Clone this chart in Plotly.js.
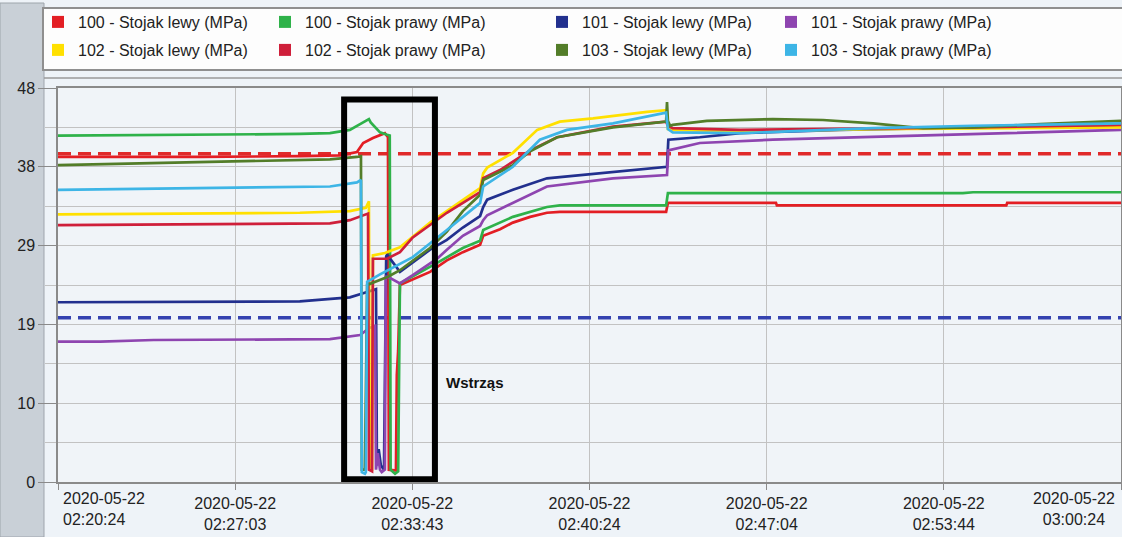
<!DOCTYPE html>
<html>
<head>
<meta charset="utf-8">
<script src="https://cdn.plot.ly/plotly-3.0.1.min.js"></script>
<style>
html,body{margin:0;padding:0;background:#eef3f8;}
#chart{width:1122px;height:537px;}
</style>
</head>
<body>
<div id="chart"></div>
<script>
const DAY = "2020-05-22 ";

const seriesNames = [
  "100 - Stojak lewy (MPa)", "100 - Stojak prawy (MPa)",
  "101 - Stojak lewy (MPa)", "101 - Stojak prawy (MPa)",
  "102 - Stojak lewy (MPa)", "102 - Stojak prawy (MPa)",
  "103 - Stojak lewy (MPa)", "103 - Stojak prawy (MPa)"
];
const seriesColors = ["#e31e24", "#2fb24a", "#22308e", "#8e45b0", "#ffe000", "#cf1f3a", "#537d29", "#3db5e6"];

// 100 - Stojak lewy
const t100L = ["02:20:24","02:25:45","02:29:30","02:31:01","02:31:39","02:31:53","02:32:15","02:32:42","02:32:49","02:32:51","02:33:07","02:33:09","02:33:12","02:33:16","02:34:24","02:35:02","02:35:38","02:36:17","02:36:24","02:37:02","02:37:31","02:38:10","02:38:48","02:39:17","02:43:17","02:43:21","02:47:25","02:47:27","02:56:05","02:56:07","03:00:24"];
const v100L = [39.6,39.6,39.7,39.8,40.2,41.3,41.9,42.5,42.0,1.5,1.4,13.0,16.0,24.0,25.6,27.0,28.0,28.9,30.0,30.8,31.6,32.3,32.8,32.9,32.9,34.0,34.0,33.7,33.7,34.0,34.0];

// 100 - Stojak prawy
const t100P = ["02:20:24","02:25:45","02:29:30","02:30:38","02:31:23","02:31:46","02:32:02","02:32:06","02:32:10","02:32:15","02:32:31","02:32:47","02:32:53","02:32:55","02:33:05","02:33:12","02:33:16","02:34:40","02:35:38","02:36:17","02:36:24","02:37:31","02:38:48","02:39:17","02:43:17","02:43:21","02:54:27","02:54:50","03:00:24"];
const v100P = [42.2,42.3,42.4,42.5,42.9,43.6,44.1,44.2,43.8,43.5,42.6,42.3,42.2,1.5,1.0,1.3,24.2,26.7,28.5,29.4,30.7,32.3,33.5,33.7,33.7,35.2,35.2,35.3,35.3];

// 101 - Stojak lewy
const t101L = ["02:20:24","02:29:30","02:31:01","02:31:23","02:31:53","02:32:15","02:32:22","02:32:24","02:32:28","02:32:33","02:32:40","02:32:45","02:32:47","02:33:16","02:34:24","02:35:02","02:35:38","02:36:17","02:36:24","02:36:33","02:37:31","02:38:48","02:41:17","02:43:19","02:43:22","02:44:33","02:46:04","02:49:49","02:54:50","03:00:24"];
const v101L = [21.9,22.0,22.4,22.5,23.0,23.4,23.5,2.0,4.0,2.0,1.5,27.5,27.7,25.6,28.3,29.5,31.0,32.4,33.5,34.4,35.6,37.0,37.8,38.4,41.7,42.0,42.5,42.9,43.2,43.4];

// 101 - Stojak prawy
const t101P = ["02:20:24","02:22:00","02:24:00","02:29:30","02:30:38","02:31:46","02:32:08","02:32:15","02:32:20","02:32:22","02:32:26","02:32:31","02:32:35","02:32:42","02:32:44","02:32:49","02:33:16","02:33:45","02:34:40","02:35:02","02:35:38","02:36:17","02:36:24","02:36:33","02:37:31","02:38:48","02:41:17","02:43:19","02:43:22","02:44:33","02:47:18","02:52:21","02:56:07","03:00:24"];
const v101P = [17.1,17.1,17.3,17.4,17.4,17.9,18.8,18.9,19.0,1.5,3.5,1.5,1.2,1.5,25.0,25.0,24.2,25.2,27.2,28.3,30.0,31.2,31.9,32.5,34.0,36.0,37.0,37.4,40.4,41.3,41.7,42.2,42.5,42.9];

// 102 - Stojak lewy
const t102L = ["02:20:24","02:25:45","02:29:30","02:31:23","02:31:59","02:32:06","02:32:08","02:32:13","02:32:15","02:32:42","02:33:16","02:34:24","02:35:38","02:36:17","02:36:24","02:36:33","02:37:31","02:38:26","02:39:17","02:40:32","02:42:34","02:43:17","02:43:21","02:43:32","02:46:04","02:51:04","03:00:24"];
const v102L = [32.6,32.7,32.8,33.0,33.4,34.2,1.5,1.5,27.6,27.9,28.6,31.6,34.4,35.8,37.6,38.3,40.1,42.9,43.9,44.3,45.1,45.3,43.0,42.9,42.7,43.0,43.2];

// 102 - Stojak prawy
const t102P = ["02:20:24","02:25:45","02:29:30","02:30:38","02:31:23","02:31:53","02:32:04","02:32:06","02:32:13","02:32:15","02:32:47","02:33:16","02:33:45","02:35:02","02:36:17","02:36:24","02:37:02","02:38:10","02:39:11","02:41:17","02:43:17","02:43:21","02:43:32","02:46:04","02:49:49","02:54:50","03:00:24"];
const v102P = [31.3,31.4,31.5,31.5,31.9,32.5,32.7,1.5,1.3,27.2,27.2,28.0,29.8,32.8,35.3,37.0,38.0,40.4,42.0,43.3,43.9,43.4,43.1,42.9,43.0,43.2,43.5];

// 103 - Stojak lewy
const t103L = ["02:20:24","02:22:00","02:25:45","02:29:30","02:30:38","02:31:39","02:31:48","02:31:50","02:31:57","02:32:02","02:32:49","02:33:16","02:34:24","02:35:02","02:35:38","02:36:17","02:36:24","02:37:02","02:37:31","02:38:10","02:39:11","02:41:17","02:43:17","02:43:19","02:43:21","02:43:26","02:43:32","02:44:49","02:47:18","02:49:11","02:51:04","02:52:57","02:54:50","02:57:21","03:00:24"];
const v103L = [38.6,38.7,39.0,39.2,39.3,39.6,39.7,1.5,1.5,24.0,25.0,25.8,28.5,30.5,33.0,35.0,36.8,37.8,38.6,40.3,42.0,43.2,43.9,46.3,44.0,43.4,43.5,44.0,44.2,44.1,43.7,43.1,43.2,43.6,44.0];

// 103 - Stojak prawy
const t103P = ["02:20:24","02:25:45","02:29:30","02:30:38","02:31:39","02:31:48","02:31:50","02:31:57","02:31:59","02:32:02","02:32:31","02:33:45","02:35:02","02:36:17","02:36:24","02:37:31","02:38:32","02:39:33","02:41:17","02:43:17","02:43:21","02:43:32","02:46:04","02:51:04","02:54:50","03:00:24"];
const v103P = [35.6,35.8,36.0,36.0,36.5,36.8,1.2,1.0,1.2,24.4,25.3,27.4,30.7,34.0,36.0,38.4,41.7,42.9,43.7,45.0,43.0,42.6,42.5,43.1,43.4,43.7];

// limit lines (MPa)
const limitRed = 40;
const limitBlue = 20;

// axes
const xStart = "02:20:24";
const xEnd = "03:00:24";
const xTickTimes = ["02:20:24","02:27:04","02:33:44","02:40:24","02:47:04","02:53:44","03:00:24"];
const xTickLabels = ["02:20:24","02:27:03","02:33:43","02:40:24","02:47:04","02:53:44","03:00:24"];
const yTickVals = [0, 9.6, 19.2, 28.8, 38.4, 48];
const yTickText = ["0", "10", "19", "29", "38", "48"];
const yMinorVals = [4.8, 14.4, 24, 33.6, 43.2];

// highlighted event
const eventLabel = "Wstrząs";
const eventStart = "02:31:10";
const eventEnd = "02:34:35";

const times = [t100L, t100P, t101L, t101P, t102L, t102P, t103L, t103P];
const values = [v100L, v100P, v101L, v101P, v102L, v102P, v103L, v103P];

const FONT = "Liberation Sans, Arial, sans-serif";
const d = t => DAY + t;

const L = 58, R = 1, T = 88, B = 55;
const PW = 1122 - L - R, PH = 537 - T - B;
const px = v => (v - L) / PW;           // page x -> paper x
const py = v => (537 - B - v) / PH;     // page y -> paper y

// legend grid placement (page px): 4 columns x 2 rows
const legendColLeft = [38, 265, 542, 771];
const legendRowTop = [5, 33];

const traces = [];
// threshold lines
[[limitRed, "#e02a2a"], [limitBlue, "#3442b0"]].forEach(([lv, c]) => {
  traces.push({
    x: [d(xStart), d(xEnd)], y: [lv, lv], type: "scatter", mode: "lines",
    line: {color: c, width: 3.5, dash: "13px,7px"}, showlegend: false, hoverinfo: "skip"
  });
});
// data lines
for (let i = 0; i < seriesNames.length; i++) {
  traces.push({
    x: times[i].map(d), y: values[i], type: "scatter", mode: "lines",
    name: seriesNames[i], line: {color: seriesColors[i], width: 2.7},
    showlegend: false, legendgroup: "g" + i
  });
}
// legend swatches, one legend per entry
const legends = {};
for (let i = 0; i < seriesNames.length; i++) {
  const key = i === 0 ? "legend" : "legend" + (i + 1);
  traces.push({
    x: [null], y: [null], type: "scatter", mode: "markers",
    name: seriesNames[i], legendgroup: "g" + i, legend: key,
    marker: {symbol: "square", size: 12, color: seriesColors[i]},
    showlegend: true, hoverinfo: "skip"
  });
  const col = i % 4, row = Math.floor(i / 4);
  legends[key] = {
    orientation: "h", x: px(legendColLeft[col]), y: py(legendRowTop[row]),
    xanchor: "left", yanchor: "top",
    bgcolor: "rgba(0,0,0,0)", borderwidth: 0,
    font: {family: FONT, size: 16, color: "#222"}, itemclick: false, itemdoubleclick: false
  };
}

const midTicks = xTickTimes.map(d);
const midText = xTickLabels.map((s, i) => (i === 0 || i === xTickLabels.length - 1) ? "" : "2020-05-22<br>" + s);

const layout = Object.assign({
  width: 1122, height: 537,
  margin: {l: L, r: R, t: T, b: B, pad: 0},
  paper_bgcolor: "#eef3f8",
  plot_bgcolor: "#f0f4f8",
  font: {family: FONT, size: 16, color: "#222"},
  showlegend: true,
  xaxis: {
    type: "date", range: [d(xStart), d(xEnd)],
    tickmode: "array", tickvals: midTicks, ticktext: midText,
    showgrid: true, gridcolor: "#c2c2c2", gridwidth: 1,
    showline: true, linecolor: "#8a8a8a", linewidth: 1.5, mirror: true,
    ticks: "outside", ticklen: 6, tickcolor: "#8a8a8a",
    tickfont: {family: FONT, size: 16, color: "#222"}, zeroline: false, fixedrange: true
  },
  yaxis: {
    range: [0, 48], tickmode: "array", tickvals: yTickVals, ticktext: yTickText,
    showgrid: true, gridcolor: "#c2c2c2", gridwidth: 1,
    showline: true, linecolor: "#8a8a8a", linewidth: 1.5, mirror: true,
    ticks: "outside", ticklen: 18, tickcolor: "#8a8a8a",
    minor: {tickmode: "array", tickvals: yMinorVals, showgrid: true, gridcolor: "#c2c2c2", ticks: "outside", ticklen: 11, tickcolor: "#c2c2c2"},
    tickfont: {family: FONT, size: 16, color: "#222"}, zeroline: false, fixedrange: true
  },
  shapes: [
    // left grey strip
    {type: "rect", xref: "paper", yref: "paper", x0: px(0), x1: px(44), y0: py(537), y1: py(3),
     fillcolor: "#c9d0d7", line: {color: "#9ea5ac", width: 1}, layer: "below"},
    // legend box
    {type: "rect", xref: "paper", yref: "paper", x0: px(43), x1: px(1125), y0: py(70), y1: py(8),
     fillcolor: "#fdfdfd", line: {color: "#8f8f8f", width: 2}, layer: "below"},
    // panel top border
    {type: "line", xref: "paper", yref: "paper", x0: px(44), x1: px(1122), y0: py(78), y1: py(78),
     line: {color: "#9a9a9a", width: 1.5}, layer: "below"},
    // event box
    {type: "rect", xref: "x", yref: "y", x0: d(eventStart), x1: d(eventEnd), y0: 0.35, y1: 46.6,
     line: {color: "#000", width: 6}, fillcolor: "rgba(0,0,0,0)", layer: "above"}
  ],
  annotations: [
    {x: d(xTickTimes[0]), y: 0, xref: "x", yref: "y", xanchor: "left", yanchor: "top", yshift: -6, xshift: 3,
     text: "2020-05-22<br>" + xTickLabels[0], showarrow: false, align: "left",
     font: {family: FONT, size: 16, color: "#222"}},
    {x: d(xTickTimes[xTickTimes.length - 1]), y: 0, xref: "x", yref: "y", xanchor: "right", yanchor: "top", yshift: -6, xshift: -4,
     text: "2020-05-22<br>" + xTickLabels[xTickLabels.length - 1], showarrow: false, align: "center",
     font: {family: FONT, size: 16, color: "#222"}},
    {x: d("02:34:55"), y: 12.1, xref: "x", yref: "y", xanchor: "left", yanchor: "middle",
     text: "<b>" + eventLabel + "</b>", showarrow: false,
     font: {family: FONT, size: 15, color: "#111"}}
  ]
}, legends);

Plotly.newPlot("chart", traces, layout, {displayModeBar: false});
</script>
</body>
</html>
